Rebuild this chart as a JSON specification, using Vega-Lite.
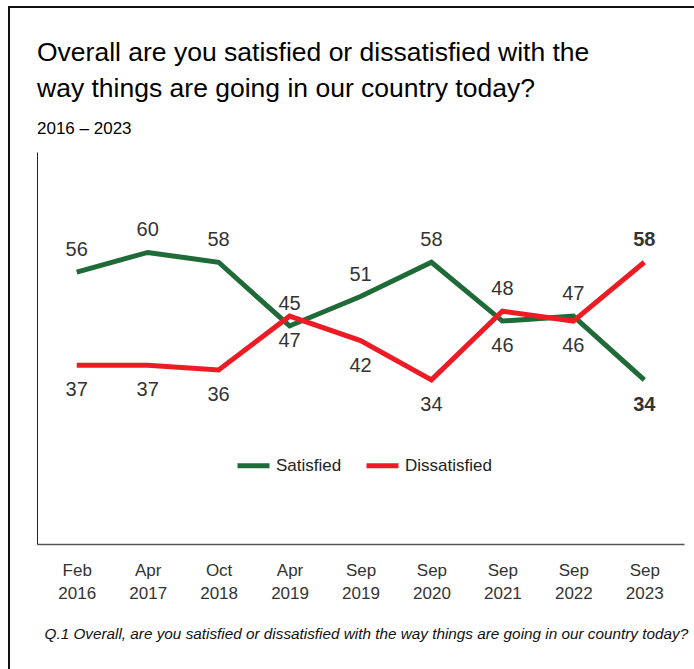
{
  "$schema": "https://vega.github.io/schema/vega-lite/v6.json",
  "width": 685,
  "height": 662,
  "autosize": "none",
  "padding": {"left": 9, "top": 7, "right": 0, "bottom": 0},
  "background": "white",
  "config": {
    "view": {"stroke": "#111", "strokeWidth": 2, "strokeDash": [685, 1347]},
    "font": "Liberation Sans"
  },
  "title": {
    "text": ["Overall are you satisfied or dissatisfied with the", "way things are going in our country today?"],
    "subtitle": "2016 – 2023",
    "anchor": "start",
    "frame": "group",
    "orient": "top",
    "offset": -130,
    "dx": 28,
    "font": "Liberation Sans",
    "fontSize": 26.5,
    "fontWeight": "normal",
    "lineHeight": 36,
    "color": "#000",
    "subtitleFont": "Liberation Sans",
    "subtitleFontSize": 17,
    "subtitleColor": "#000",
    "subtitlePadding": 19
  },
  "data": {
    "values": [
      {"period": "Feb 2016", "series": "Satisfied", "value": 56},
      {"period": "Apr 2017", "series": "Satisfied", "value": 60},
      {"period": "Oct 2018", "series": "Satisfied", "value": 58},
      {"period": "Apr 2019", "series": "Satisfied", "value": 45},
      {"period": "Sep 2019", "series": "Satisfied", "value": 51},
      {"period": "Sep 2020", "series": "Satisfied", "value": 58},
      {"period": "Sep 2021", "series": "Satisfied", "value": 46},
      {"period": "Sep 2022", "series": "Satisfied", "value": 47},
      {"period": "Sep 2023", "series": "Satisfied", "value": 34},
      {"period": "Feb 2016", "series": "Dissatisfied", "value": 37},
      {"period": "Apr 2017", "series": "Dissatisfied", "value": 37},
      {"period": "Oct 2018", "series": "Dissatisfied", "value": 36},
      {"period": "Apr 2019", "series": "Dissatisfied", "value": 47},
      {"period": "Sep 2019", "series": "Dissatisfied", "value": 42},
      {"period": "Sep 2020", "series": "Dissatisfied", "value": 34},
      {"period": "Sep 2021", "series": "Dissatisfied", "value": 48},
      {"period": "Sep 2022", "series": "Dissatisfied", "value": 46},
      {"period": "Sep 2023", "series": "Dissatisfied", "value": 58}
    ]
  },
  "encoding": {
    "x": {
      "field": "period",
      "type": "ordinal",
      "sort": ["Feb 2016", "Apr 2017", "Oct 2018", "Apr 2019", "Sep 2019", "Sep 2020", "Sep 2021", "Sep 2022", "Sep 2023"],
      "scale": {"type": "point", "range": [28, 675], "padding": 0.56},
      "axis": {
        "orient": "bottom",
        "offset": -125,
        "domainColor": "#555",
        "domainWidth": 1.5,
        "ticks": false,
        "tickSize": 0,
        "grid": false,
        "labelExpr": "split(datum.label, ' ')",
        "labelFont": "Liberation Sans",
        "labelFontSize": 17,
        "labelColor": "#333",
        "labelLineHeight": 23,
        "labelPadding": 18,
        "labelAngle": 0,
        "labelOverlap": false,
        "labelBound": false,
        "title": "Q.1  Overall, are you satisfied or dissatisfied with the way things are going in our country today?",
        "titleFont": "Liberation Sans",
        "titleFontStyle": "italic",
        "titleFontWeight": "normal",
        "titleFontSize": 15.3,
        "titleColor": "#111",
        "titleX": 35,
        "titleY": 82,
        "titleAlign": "left",
        "titleBaseline": "top",
        "titleAnchor": "start"
      }
    },
    "y": {
      "field": "value",
      "type": "quantitative",
      "scale": {"domain": [0.5, 80.5], "range": [537, 145], "zero": false, "nice": false},
      "axis": {
        "orient": "left",
        "offset": -28,
        "domainColor": "#222",
        "domainWidth": 1,
        "ticks": false,
        "labels": false,
        "grid": false,
        "title": null
      }
    }
  },
  "layer": [
    {
      "mark": {"type": "line", "strokeWidth": 5},
      "encoding": {
        "color": {
          "field": "series",
          "type": "nominal",
          "scale": {"domain": ["Satisfied", "Dissatisfied"], "range": ["#1f6b38", "#ed1c24"]},
          "legend": {
            "orient": "none",
            "legendX": 226,
            "legendY": 440,
            "direction": "horizontal",
            "title": null,
            "symbolType": "stroke",
            "symbolStrokeWidth": 5,
            "symbolSize": 1024,
            "labelFontSize": 17,
            "labelFont": "Liberation Sans",
            "labelColor": "#222",
            "columnPadding": 14,
            "labelOffset": 4,
            "padding": 0
          }
        }
      }
    },
    {
      "transform": [
        {"filter": "datum.period != 'Sep 2023' && ((datum.series == 'Satisfied' && datum.period != 'Sep 2021') || (datum.series == 'Dissatisfied' && datum.period == 'Sep 2021'))"}
      ],
      "mark": {"type": "text", "dy": -22, "fontSize": 20, "color": "#333", "baseline": "middle", "align": "center", "font": "Liberation Sans"},
      "encoding": {"text": {"field": "value", "type": "quantitative"}}
    },
    {
      "transform": [
        {"filter": "datum.period != 'Sep 2023' && ((datum.series == 'Dissatisfied' && datum.period != 'Sep 2021') || (datum.series == 'Satisfied' && datum.period == 'Sep 2021'))"}
      ],
      "mark": {"type": "text", "dy": 25, "fontSize": 20, "color": "#333", "baseline": "middle", "align": "center", "font": "Liberation Sans"},
      "encoding": {"text": {"field": "value", "type": "quantitative"}}
    },
    {
      "transform": [
        {"filter": "datum.period == 'Sep 2023' && datum.series == 'Dissatisfied'"}
      ],
      "mark": {"type": "text", "dy": -22, "fontSize": 20, "fontWeight": "bold", "color": "#333", "baseline": "middle", "align": "center", "font": "Liberation Sans"},
      "encoding": {"text": {"field": "value", "type": "quantitative"}}
    },
    {
      "transform": [
        {"filter": "datum.period == 'Sep 2023' && datum.series == 'Satisfied'"}
      ],
      "mark": {"type": "text", "dy": 25, "fontSize": 20, "fontWeight": "bold", "color": "#333", "baseline": "middle", "align": "center", "font": "Liberation Sans"},
      "encoding": {"text": {"field": "value", "type": "quantitative"}}
    }
  ]
}
